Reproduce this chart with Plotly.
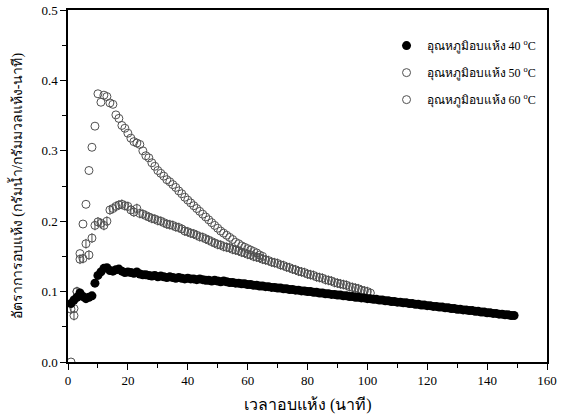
import plotly.graph_objects as go

# time (minutes)
t40 = list(range(1, 150))
t50 = list(range(1, 102))
t60 = list(range(1, 66))

rate40 = [
    0.083, 0.088, 0.092, 0.098, 0.093, 0.090, 0.092, 0.094, 0.112, 0.123,
    0.128, 0.133, 0.134, 0.130, 0.129, 0.131, 0.132, 0.129, 0.127, 0.128,
    0.127, 0.126, 0.128, 0.125, 0.124, 0.124, 0.123, 0.122, 0.123, 0.121,
    0.122, 0.121, 0.120, 0.121, 0.120, 0.119, 0.120, 0.119, 0.118, 0.119,
    0.118, 0.118, 0.117, 0.118, 0.117, 0.116, 0.116, 0.115, 0.116, 0.115,
    0.114, 0.115, 0.114, 0.113, 0.113, 0.112, 0.112, 0.111, 0.111, 0.110,
    0.110, 0.109, 0.109, 0.108, 0.108, 0.107, 0.107, 0.106, 0.106, 0.105,
    0.105, 0.104, 0.104, 0.103, 0.103, 0.102, 0.102, 0.101, 0.101, 0.100,
    0.100, 0.099, 0.099, 0.098, 0.098, 0.097, 0.097, 0.096, 0.096, 0.095,
    0.095, 0.094, 0.094, 0.093, 0.093, 0.092, 0.092, 0.091, 0.091, 0.090,
    0.090, 0.089, 0.089, 0.088, 0.088, 0.087, 0.087, 0.086, 0.086, 0.085,
    0.085, 0.084, 0.084, 0.083, 0.083, 0.082, 0.082, 0.081, 0.081, 0.080,
    0.080, 0.079, 0.079, 0.078, 0.078, 0.077, 0.077, 0.076, 0.076, 0.075,
    0.075, 0.074, 0.074, 0.073, 0.073, 0.072, 0.072, 0.071, 0.071, 0.070,
    0.070, 0.069, 0.069, 0.068, 0.068, 0.067, 0.067, 0.066, 0.066,
]

rate50 = [
    0.075, 0.066, 0.100, 0.146, 0.147, 0.168, 0.152, 0.176, 0.194, 0.199,
    0.197, 0.194, 0.200, 0.216, 0.218, 0.221, 0.223, 0.224, 0.222, 0.221,
    0.216, 0.213, 0.218, 0.211, 0.210, 0.208, 0.206, 0.204, 0.203, 0.201,
    0.200, 0.198, 0.196, 0.195, 0.194, 0.192, 0.191, 0.189, 0.186, 0.185,
    0.183, 0.182, 0.180, 0.178, 0.177, 0.175, 0.173, 0.171, 0.169, 0.167,
    0.166, 0.164, 0.163, 0.162, 0.160, 0.159, 0.158, 0.156, 0.155, 0.153,
    0.152, 0.150, 0.149, 0.148, 0.146, 0.145, 0.144, 0.142, 0.141, 0.140,
    0.138, 0.137, 0.135, 0.134, 0.132, 0.131, 0.129, 0.128, 0.127, 0.125,
    0.124, 0.123, 0.121, 0.120, 0.119, 0.117, 0.116, 0.115, 0.113, 0.112,
    0.111, 0.110, 0.109, 0.107, 0.106, 0.105, 0.104, 0.102, 0.101, 0.100,
    0.098,
]

rate60 = [
    0.000, 0.076, 0.100, 0.154, 0.196, 0.224, 0.272, 0.305, 0.335, 0.381,
    0.369, 0.379, 0.377, 0.368, 0.366, 0.351, 0.346, 0.336, 0.332, 0.325,
    0.318, 0.313, 0.311, 0.309, 0.300, 0.293, 0.290, 0.283, 0.278, 0.272,
    0.268, 0.264, 0.259, 0.256, 0.252, 0.248, 0.243, 0.239, 0.234, 0.230,
    0.226, 0.222, 0.218, 0.214, 0.210, 0.206, 0.202, 0.198, 0.194, 0.190,
    0.186, 0.183, 0.180, 0.177, 0.174, 0.170, 0.168, 0.165, 0.163, 0.161,
    0.159, 0.157, 0.155, 0.152, 0.150,
]

name40 = "อุณหภูมิอบแห้ง 40 <sup>o</sup>C"
name50 = "อุณหภูมิอบแห้ง 50 <sup>o</sup>C"
name60 = "อุณหภูมิอบแห้ง 60 <sup>o</sup>C"
x_title = "เวลาอบแห้ง (นาที)"
y_title = "อัตราการอบแห้ง (กรัมน้ำ/กรัมมวลแห้ง-นาที)"

FONT = "Liberation Serif, Times New Roman, serif"
GRAY = "#505050"

fig = go.Figure()
fig.add_trace(go.Scatter(
    x=t60, y=rate60, mode="markers", name=name60, legendgroup="g60", legendrank=3,
    marker=dict(symbol="circle-open", size=8, color=GRAY, line=dict(width=1)),
))
fig.add_trace(go.Scatter(
    x=t50, y=rate50, mode="markers", name=name50, legendgroup="g50", legendrank=2,
    marker=dict(symbol="circle-open", size=8, color=GRAY, line=dict(width=1)),
))
fig.add_trace(go.Scatter(
    x=t50, y=rate50, mode="markers", name=name50, legendgroup="g50", legendrank=2,
    showlegend=False,
    marker=dict(symbol="line-ns-open", size=7, color=GRAY, line=dict(width=1)),
))
fig.add_trace(go.Scatter(
    x=t40, y=rate40, mode="markers", name=name40, legendgroup="g40", legendrank=1,
    marker=dict(symbol="circle", size=9, color="black"),
))

axis_common = dict(
    showline=True, linecolor="black", linewidth=1.5, mirror=True,
    ticks="outside", ticklen=6, tickwidth=1.2, tickcolor="black",
    showgrid=False, zeroline=False, automargin=False,
    ticklabeloverflow="allow",
    tickfont=dict(family=FONT, size=13, color="black"),
)

fig.update_xaxes(
    range=[0, 160], dtick=20, tick0=0,
    minor=dict(dtick=10, ticks="outside", ticklen=4, tickcolor="black"),
    **axis_common,
)
fig.update_yaxes(
    range=[0, 0.5], dtick=0.1, tick0=0, tickformat=".1f",
    minor=dict(dtick=0.05, ticks="outside", ticklen=4, tickcolor="black"),
    **axis_common,
)

fig.update_layout(
    width=561, height=414,
    margin=dict(l=68, r=14, t=10, b=52),
    paper_bgcolor="white", plot_bgcolor="white",
    font=dict(family=FONT, color="black"),
    legend=dict(
        x=0.665, y=0.94, xanchor="left", yanchor="top",
        traceorder="grouped", tracegroupgap=8,
        font=dict(family=FONT, size=12, color="black"),
        bgcolor="rgba(0,0,0,0)",
    ),
    annotations=[
        dict(text=x_title, xref="paper", yref="paper", x=0.5, y=-0.122,
             xanchor="center", yanchor="middle", showarrow=False,
             font=dict(family=FONT, size=16, color="black")),
        dict(text=y_title, xref="paper", yref="paper", x=-0.108, y=0.5,
             xanchor="center", yanchor="middle", textangle=-90, showarrow=False,
             font=dict(family=FONT, size=14, color="black")),
    ],
)

# remove the default 8px body margin so the figure fills the window exactly
fig.write_html(
    "out.html",
    config={"displayModeBar": False},
    post_script="document.body.style.margin='0';document.body.style.overflow='hidden';",
)
